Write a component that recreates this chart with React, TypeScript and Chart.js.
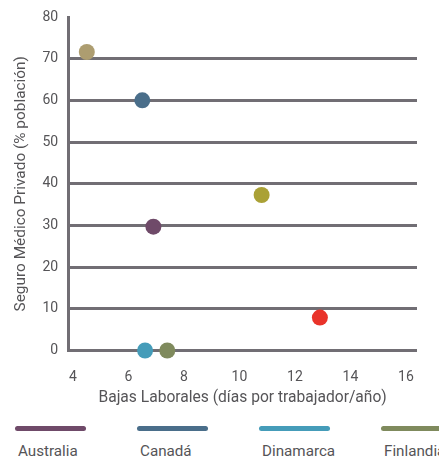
import React, { useEffect, useRef } from "react";
import { Chart, registerables } from "chart.js";

Chart.register(...registerables);

// ---- data ----
const countries = ["Australia", "Canadá", "Dinamarca", "Finlandia", "Francia", "Irlanda", "Noruega"];
const sickDays = [6.9, 6.5, 6.6, 7.4, 4.5, 10.8, 12.9];
const privateInsurance = [29.7, 60, 0, 0, 71.6, 37.3, 7.9];
const colors = ["#6f4a69", "#4a6e8a", "#459cb9", "#7f8a5d", "#ad9d70", "#aaa136", "#e9332a"];
const xTicks = [4, 6, 8, 10, 12, 14, 16];
const xMin = 3.83;
const xMax = 16.4;
const yMin = 0;
const yMax = 80;
const yStep = 10;
const xTitle = "Bajas Laborales (días por trabajador/año)";
const yTitle = "Seguro Médico Privado (% población)";

const FONT = "Roboto, 'DejaVu Sans', sans-serif";
const TEXT = "#555457";
const GRID = "#716e74";

export default function App() {
  const ref = useRef<HTMLCanvasElement | null>(null);

  useEffect(() => {
    if (!ref.current) return;
    const chart = new Chart(ref.current, {
      type: "scatter",
      data: {
        datasets: countries.map((c, i) => ({
          label: c,
          data: [{ x: sickDays[i], y: privateInsurance[i] }],
          backgroundColor: colors[i],
          borderColor: colors[i],
          borderWidth: 0,
          pointRadius: 8,
          pointHoverRadius: 8,
          clip: false as any,
        })),
      },
      options: {
        animation: false,
        responsive: true,
        maintainAspectRatio: false,
        layout: { padding: { top: 0, right: 30, left: 0, bottom: 0 } },
        plugins: { legend: { display: false }, tooltip: { enabled: false } },
        scales: {
          x: {
            type: "linear",
            min: xMin,
            max: xMax,
            afterBuildTicks: (scale: any) => {
              scale.ticks = xTicks.map((v) => ({ value: v }));
            },
            grid: { display: false, drawTicks: false },
            border: { display: false },
            ticks: {
              color: TEXT,
              font: { family: FONT, size: 14 },
              padding: 19,
              maxRotation: 0,
              autoSkip: false,
            },
            title: {
              display: true,
              text: xTitle,
              color: TEXT,
              font: { family: FONT, size: 15.6 },
              padding: { top: -17, bottom: 0 },
            },
          },
          y: {
            type: "linear",
            min: yMin,
            max: yMax,
            afterFit: (scale: any) => {
              scale.paddingTop = 9;
            },
            ticks: {
              stepSize: yStep,
              color: TEXT,
              font: { family: FONT, size: 14 },
              padding: 10,
            },
            grid: {
              drawTicks: false,
              lineWidth: 3,
              color: (ctx: any) => (ctx.tick && ctx.tick.value === yMax ? "rgba(0,0,0,0)" : GRID),
            },
            border: { display: true, color: GRID, width: 3 },
            title: {
              display: true,
              text: yTitle,
              color: TEXT,
              font: { family: FONT, size: 15.4 },
              padding: { top: 4, bottom: 2 },
            },
          },
        },
      },
    });
    return () => chart.destroy();
  }, []);

  return (
    <div style={{ width: 439, fontFamily: FONT }}>
      <div style={{ position: "relative", width: 439, height: 399 }}>
        <canvas ref={ref} />
      </div>
      <div style={{ display: "flex", flexWrap: "nowrap", overflow: "hidden", width: 439, paddingLeft: 7, boxSizing: "border-box" }}>
        {countries.map((c, i) => (
          <div key={c} style={{ flex: "0 0 122px", width: 122 }}>
            <div style={{ marginTop: 19, width: 71, height: 5, borderRadius: 2.5, background: colors[i] }} />
            <div style={{ marginTop: 11, marginLeft: 3, fontSize: 15.2, lineHeight: "19px", color: TEXT, whiteSpace: "nowrap" }}>{c}</div>
          </div>
        ))}
      </div>
    </div>
  );
}
